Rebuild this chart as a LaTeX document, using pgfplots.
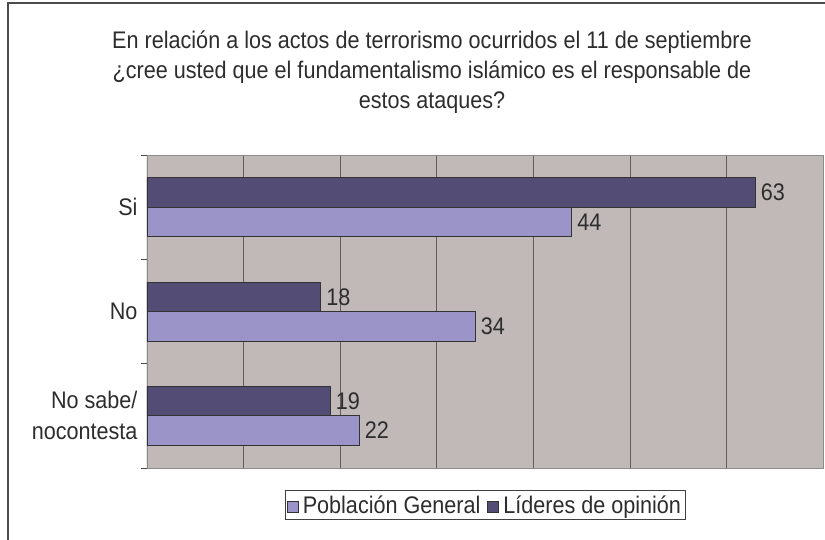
\documentclass[border=0pt]{standalone}
\usepackage{pgfplots}
\pgfplotsset{compat=1.18}
\usepackage{fontspec}
\setmainfont{Liberation Sans}[FakeStretch=0.9]

\definecolor{plotbg}{RGB}{192,185,183}
\definecolor{lider}{RGB}{83,76,117}
\definecolor{pobl}{RGB}{155,148,200}
\definecolor{gridc}{RGB}{100,92,92}
\definecolor{txt}{RGB}{45,45,45}

\newcommand{\chartfont}{\fontsize{24}{31}\selectfont}

\begin{document}
\begin{tikzpicture}[x=1pt,y=1pt]
\useasboundingbox (0,0) rectangle (825,539);
% outer chart frame (right and bottom edges fall outside the picture)
\draw[line width=1.4pt, black!70] (8,-5) -- (8,536) -- (830,536);

\node[anchor=base, font=\chartfont, text=txt] at (432,490) {En relación a los actos de terrorismo ocurridos el 11 de septiembre};
\node[anchor=base, font=\chartfont, text=txt] at (432,460) {¿cree usted que el fundamentalismo islámico es el responsable de};
\node[anchor=base, font=\chartfont, text=txt] at (432,430) {estos ataques?};

\begin{axis}[
    at={(147pt,71pt)}, anchor=south west,
    scale only axis, width=676pt, height=313pt,
    xbar, bar width=29.5pt,
    xmin=0, xmax=70, ymin=-0.5, ymax=2.5,
    axis background/.style={fill=plotbg},
    axis line style={draw=black!45, line width=0.8pt},
    xtick={0,10,...,70}, xticklabels={},
    xmajorgrids, major x grid style={gridc, line width=0.7pt},
    ytick={0,1,2},
    yticklabels={{No sabe/\\nocontesta}, No, Si},
    ytick pos=left, xtick pos=bottom,
    major tick length=0pt,
    extra y ticks={-0.5,0.5,1.5,2.5},
    extra y tick labels={},
    extra y tick style={major tick length=6pt, tick align=outside,
        major tick style={black!70, line width=0.8pt}, grid=none},
    yticklabel style={align=right, font=\chartfont, text=txt, xshift=-6pt},
    /pgf/number format/assume math mode=true,
    nodes near coords,
    nodes near coords align=horizontal,
    point meta=x,
    every node near coord/.append style={anchor=west, font=\chartfont, text=txt, inner sep=5pt},
    legend columns=2,
    legend style={at={(0.5,0)}, anchor=north, yshift=-22pt,
        draw=black!75, line width=0.8pt, font=\chartfont, text=txt,
        inner xsep=2pt, inner ysep=3pt,
        /tikz/every odd column/.append style={column sep=2pt},
        /tikz/every even column/.append style={column sep=5pt}},
    legend image code/.code={\draw[#1, draw=black!80, line width=0.8pt] (0pt,-7pt) rectangle (11pt,4pt);},
]
\addplot[fill=pobl, draw=black!80, line width=0.9pt, bar shift=-14.75pt]
    coordinates {(22,0) (34,1) (44,2)};
\addlegendentry{Población General}
\addplot[fill=lider, draw=black!80, line width=0.9pt, bar shift=14.75pt]
    coordinates {(19,0) (18,1) (63,2)};
\addlegendentry{Líderes de opinión}
\draw[black!80, line width=1pt] (rel axis cs:0,0) -- (rel axis cs:0,1);
\end{axis}
\end{tikzpicture}
\end{document}
